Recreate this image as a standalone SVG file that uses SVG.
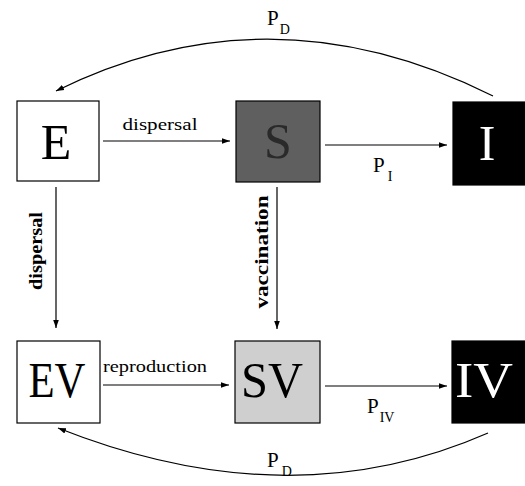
<svg xmlns="http://www.w3.org/2000/svg" width="525" height="486" viewBox="0 0 525 486">
<defs>
<marker id="ah" viewBox="0 0 10 10" refX="10" refY="5" markerWidth="8" markerHeight="8" markerUnits="userSpaceOnUse" orient="auto"><path d="M0,1.5 L10,5 L0,8.5 Z" fill="#000"/></marker>
</defs>
<style>
.box{stroke:#000;stroke-width:1.2}
.big{font-family:"Liberation Serif",serif;font-size:50px;text-anchor:middle}
.lbl{font-family:"Liberation Serif",serif;font-size:17px;text-anchor:middle}
.blbl{font-family:"Liberation Serif",serif;font-size:18px;font-weight:bold;text-anchor:middle}
.p{font-family:"Liberation Serif",serif;font-size:21px}
.sub{font-family:"Liberation Serif",serif;font-size:14px}
.c{fill:none;stroke:#000;stroke-width:1.2;marker-end:url(#ah)}
</style>
<rect width="525" height="486" fill="#fff"/>
<g id="connectors">
<path class="c" d="M103,141 L230,141"/>
<path class="c" d="M325,145 L447,145"/>
<path class="c" d="M103,385 L229,385"/>
<path class="c" d="M325,386 L447,386"/>
<path class="c" d="M56,187 L56,328"/>
<path class="c" d="M277,187 L277,329"/>
<path class="c" d="M493,96 Q270,-15 56,91"/>
<path class="c" d="M488,433 Q290,520 58,428"/>
<text class="lbl" x="160" y="130" textLength="75" lengthAdjust="spacingAndGlyphs">dispersal</text>
<text class="lbl" x="155" y="372" textLength="104" lengthAdjust="spacingAndGlyphs">reproduction</text>
<text class="blbl" transform="translate(42,251) rotate(-90)" textLength="78" lengthAdjust="spacingAndGlyphs">dispersal</text>
<text class="blbl" transform="translate(268,252) rotate(-90)" textLength="113" lengthAdjust="spacingAndGlyphs">vaccination</text>
<text class="p" x="267" y="25">P<tspan class="sub" dx="1" dy="9">D</tspan></text>
<text class="p" x="373" y="172">P<tspan class="sub" dx="3" dy="9">I</tspan></text>
<text class="p" x="367" y="413">P<tspan class="sub" dx="1" dy="9">IV</tspan></text>
<text class="p" x="267" y="467">P<tspan class="sub" dx="3" dy="9">D</tspan></text>
</g>
<g id="E"><rect class="box" x="17" y="101" width="82" height="80" fill="#fff"/><text class="big" x="56" y="159">E</text></g>
<g id="S"><rect class="box" x="236" y="101" width="84" height="81" fill="#5f5f5f"/><text class="big" x="278" y="158" fill="#2a2a2a">S</text></g>
<g id="I"><rect class="box" x="453" y="102" width="72" height="83" fill="#000"/><text class="big" x="487" y="160" fill="#fff">I</text></g>
<g id="EV"><rect class="box" x="17" y="341" width="83" height="82" fill="#fff"/><text class="big" x="57" y="397" textLength="57" lengthAdjust="spacingAndGlyphs">EV</text></g>
<g id="SV"><rect class="box" x="235" y="341" width="85" height="82" fill="#cfcfcf"/><text class="big" x="272" y="397" textLength="62" lengthAdjust="spacingAndGlyphs">SV</text></g>
<g id="IV"><rect class="box" x="452" y="341" width="73" height="82" fill="#000"/><text class="big" x="484" y="397" fill="#fff" textLength="58" lengthAdjust="spacingAndGlyphs">IV</text></g>
</svg>
